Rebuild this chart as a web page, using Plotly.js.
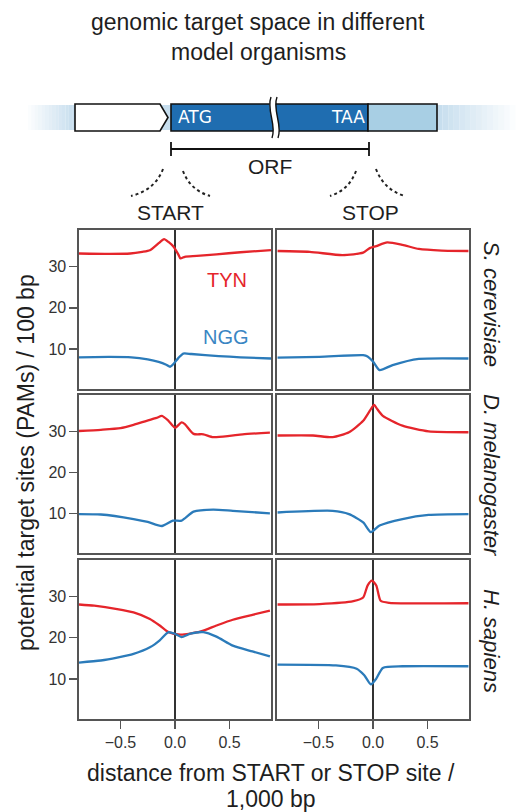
<!DOCTYPE html>
<html><head><meta charset="utf-8">
<script src="https://cdn.plot.ly/plotly-3.0.1.min.js"></script>
<style>html,body{margin:0;padding:0;background:#fff}</style>
</head><body><div id="chart" style="width:517px;height:812px"></div>
<script>
// ---- data (distance from site in units of 1,000 bp ; PAMs per 100 bp) ----
const scStartX_TYN = [-0.88,-0.60,-0.41,-0.30,-0.23,-0.15,-0.10,-0.06,-0.015,0.03,0.05,0.09,0.20,0.38,0.60,0.88];
const scStartTYN   = [33.2,33.1,33.2,33.6,34.0,35.7,36.7,36.0,34.9,33.0,32.0,32.4,32.6,33.0,33.5,34.0];
const scStartX_NGG = [-0.88,-0.60,-0.40,-0.25,-0.15,-0.08,-0.045,-0.01,0.03,0.076,0.15,0.40,0.60,0.88];
const scStartNGG   = [8.0,8.1,8.0,7.5,6.9,6.2,5.7,6.5,7.8,8.9,8.8,8.3,8.0,7.7];
const scStopX_TYN  = [-0.875,-0.58,-0.28,-0.09,-0.03,0.03,0.13,0.27,0.42,0.63,0.875];
const scStopTYN    = [33.8,33.6,32.8,33.4,34.5,35.0,35.9,35.3,34.3,33.9,33.8];
const scStopX_NGG  = [-0.875,-0.49,-0.09,-0.05,0.0,0.06,0.18,0.42,0.875];
const scStopNGG    = [7.9,8.1,8.5,8.2,7.0,4.9,6.1,7.6,7.7];

const dmStartX_TYN = [-0.88,-0.68,-0.50,-0.38,-0.26,-0.17,-0.12,-0.06,0.0,0.06,0.09,0.17,0.26,0.35,0.50,0.62,0.87];
const dmStartTYN   = [30.1,30.4,30.8,31.6,32.6,33.3,33.8,32.6,30.9,32.2,31.8,29.4,29.3,28.6,28.9,29.3,29.7];
const dmStartX_NGG = [-0.88,-0.68,-0.38,-0.25,-0.12,-0.02,0.06,0.17,0.35,0.53,0.87];
const dmStartNGG   = [9.8,9.7,8.6,7.9,6.9,8.2,8.2,10.4,10.9,10.6,10.0];
const dmStopX_TYN  = [-0.875,-0.55,-0.37,-0.22,-0.09,-0.03,0.01,0.04,0.09,0.27,0.51,0.875];
const dmStopTYN    = [29.0,29.0,28.6,29.8,32.6,35.0,36.5,35.4,33.8,31.4,30.0,29.8];
const dmStopX_NGG  = [-0.875,-0.37,-0.22,-0.09,-0.02,0.06,0.27,0.51,0.875];
const dmStopNGG    = [10.2,10.6,9.8,7.8,5.4,7.0,8.6,9.6,9.8];

const hsStartX_TYN = [-0.88,-0.74,-0.53,-0.38,-0.23,-0.14,-0.06,0.05,0.23,0.38,0.53,0.71,0.87];
const hsStartTYN   = [28.1,27.8,27.0,26.2,24.6,23.0,21.4,20.8,21.5,23.0,24.4,25.6,26.6];
const hsStartX_NGG = [-0.88,-0.68,-0.53,-0.38,-0.23,-0.14,-0.06,0.0,0.06,0.14,0.26,0.38,0.53,0.71,0.87];
const hsStartNGG   = [14.0,14.5,15.2,16.1,17.7,19.4,21.4,21.0,20.2,21.0,21.4,20.3,18.1,16.7,15.5];
const hsStopX_TYN  = [-0.875,-0.49,-0.18,-0.09,-0.05,-0.01,0.03,0.07,0.15,0.875];
const hsStopTYN    = [28.1,28.2,28.9,29.8,32.7,33.9,32.7,29.0,28.5,28.4];
const hsStopX_NGG  = [-0.875,-0.34,-0.15,-0.08,-0.02,0.03,0.09,0.27,0.875];
const hsStopNGG    = [13.5,13.3,12.5,10.9,8.7,10.1,12.7,13.1,13.1];

const xTickVals = [-0.5, 0, 0.5];
const xTickText = ['\u22120.5', '0.0', '0.5'];
const yTickVals = [10, 20, 30];
const organisms = ['S. cerevisiae', 'D. melanogaster', 'H. sapiens'];
const seriesNames = ['TYN', 'NGG'];

// ---- layout geometry (pixels) ----
const W = 517, H = 812, ML = 79, MR = 48, MT = 230, MB = 93;
const PW = W - ML - MR, PH = H - MT - MB;
const px = x => (x - ML) / PW;
const py = y => (H - MB - y) / PH;
const RED = '#e5252b', BLUE = '#2b7bba', INK = '#1e1e1e';
const FONT = 'Liberation Sans, Arial, Helvetica, sans-serif';

const panels = [
  [scStartX_TYN, scStartTYN, scStartX_NGG, scStartNGG],
  [scStopX_TYN, scStopTYN, scStopX_NGG, scStopNGG],
  [dmStartX_TYN, dmStartTYN, dmStartX_NGG, dmStartNGG],
  [dmStopX_TYN, dmStopTYN, dmStopX_NGG, dmStopNGG],
  [hsStartX_TYN, hsStartTYN, hsStartX_NGG, hsStartNGG],
  [hsStopX_TYN, hsStopTYN, hsStopX_NGG, hsStopNGG]
];

const colDom = [[0, px(271)], [px(277), 1]];
const rowDom = [[py(389), py(230)], [py(553), py(395)], [py(719), py(560)]];

const traces = [];
const layout = {
  width: W, height: H,
  margin: {l: ML, r: MR, t: MT, b: MB, pad: 0},
  paper_bgcolor: '#fff', plot_bgcolor: '#fff',
  showlegend: false, hovermode: false,
  font: {family: FONT, color: INK},
  shapes: [], annotations: []
};

panels.forEach((p, i) => {
  const r = Math.floor(i / 2), c = i % 2, n = i + 1;
  const xa = n === 1 ? 'x' : 'x' + n, ya = n === 1 ? 'y' : 'y' + n;
  traces.push({x: p[0], y: p[1], xaxis: xa, yaxis: ya, type: 'scatter', mode: 'lines', name: seriesNames[0],
    line: {color: RED, width: 2.3, shape: 'spline', smoothing: 0.6}});
  traces.push({x: p[2], y: p[3], xaxis: xa, yaxis: ya, type: 'scatter', mode: 'lines', name: seriesNames[1],
    line: {color: BLUE, width: 2.3, shape: 'spline', smoothing: 0.6}});
  const bottom = r === 2, left = c === 0;
  layout[n === 1 ? 'xaxis' : 'xaxis' + n] = {
    domain: colDom[c], anchor: ya, range: [-0.88, 0.88], showgrid: false,
    zeroline: true, zerolinecolor: '#333', zerolinewidth: 1.2,
    showline: true, mirror: true, linecolor: '#555', linewidth: 1.6,
    tickvals: xTickVals, ticktext: xTickText, ticks: bottom ? 'outside' : '', ticklen: 8, tickwidth: 1.3, tickcolor: '#555',
    showticklabels: bottom, tickfont: {size: 16, color: '#333', family: FONT}
  };
  layout[n === 1 ? 'yaxis' : 'yaxis' + n] = {
    domain: rowDom[r], anchor: xa, range: [0.3, 38.9], showgrid: false, zeroline: false,
    showline: true, mirror: true, linecolor: '#555', linewidth: 1.6,
    tickvals: yTickVals, ticks: left ? 'outside' : '', ticklen: 8, tickwidth: 1.3, tickcolor: '#555',
    showticklabels: left, tickfont: {size: 16, color: '#333', family: FONT}
  };
});

// ---- annotations ----
const ann = (x, y, text, o) => layout.annotations.push(Object.assign({
  xref: 'paper', yref: 'paper', x: px(x), y: py(y), text: text, showarrow: false,
  xanchor: 'center', yanchor: 'middle', font: {size: 20, color: INK, family: FONT}
}, o || {}));

ann(258, 22, 'genomic target space in different', {font: {size: 23, color: INK, family: FONT}});
ann(258, 52, 'model organisms', {font: {size: 23, color: INK, family: FONT}});
ann(271, 773, 'distance from START or STOP site /', {font: {size: 23, color: INK, family: FONT}});
ann(271, 799, '1,000 bp', {font: {size: 23, color: INK, family: FONT}});
ann(26, 463, 'potential target sites (PAMs) / 100 bp', {textangle: -90, font: {size: 23, color: INK, family: FONT}});
ann(492, 304, '<i>' + organisms[0] + '</i>', {textangle: 90, font: {size: 22, color: INK, family: FONT}});
ann(492, 475, '<i>' + organisms[1] + '</i>', {textangle: 90, font: {size: 22, color: INK, family: FONT}});
ann(492, 641, '<i>' + organisms[2] + '</i>', {textangle: 90, font: {size: 22, color: INK, family: FONT}});
ann(227, 280, seriesNames[0], {font: {size: 20, color: RED, family: FONT}});
ann(226, 337, seriesNames[1], {font: {size: 20, color: '#3a86c3', family: FONT}});
ann(270, 166, 'ORF', {font: {size: 21, color: INK, family: FONT}});
ann(170, 212, 'START', {font: {size: 21, color: INK, family: FONT}});
ann(370, 212, 'STOP', {font: {size: 21, color: INK, family: FONT}});
ann(195, 117, 'ATG', {font: {size: 17, color: '#fff', family: 'DejaVu Sans, sans-serif'}});
ann(348, 117, 'TAA', {font: {size: 17, color: '#fff', family: 'DejaVu Sans, sans-serif'}});

// ---- gene diagram shapes ----
const S = layout.shapes;
const rect = (x0, y0, x1, y1, fill, line, lw, op) => S.push({type: 'rect', xref: 'paper', yref: 'paper',
  x0: px(x0), x1: px(x1), y0: py(y1), y1: py(y0), fillcolor: fill, opacity: op === undefined ? 1 : op,
  line: {color: line || 'rgba(0,0,0,0)', width: lw || 0}, layer: 'above'});
const path = (pts, fill, line, lw, dash) => {
  let d = '';
  pts.forEach(p => {
    if (typeof p === 'string') d += p + ' ';
    else d += px(p[0]).toFixed(5) + ',' + py(p[1]).toFixed(5) + ' ';
  });
  S.push({type: 'path', xref: 'paper', yref: 'paper', path: d.trim(), fillcolor: fill || 'rgba(0,0,0,0)',
    line: {color: line || 'rgba(0,0,0,0)', width: lw || 0, dash: dash || 'solid'}, layer: 'above'});
};
// faded band
const steps = 14;
for (let k = 0; k < steps; k++) {
  const a = (k + 1) / steps;
  rect(28 + k * 3.4, 105, 28 + (k + 1) * 3.4, 130, '#c7deee', null, 0, a);
  rect(437 + k * 5.6, 105, 437 + (k + 1) * 5.6, 130, '#c7deee', null, 0, 1 - k / steps);
}
rect(75, 105, 440, 130, '#c7deee');
// boxes
path(['M', [75, 104], 'L', [160, 104], 'L', [168, 117.5], 'L', [160, 131], 'L', [75, 131], 'Z'], '#fff', '#111', 1.6);
rect(171, 104, 368, 131, '#1f6db0', '#111', 1.6);
rect(368, 104, 437, 131, '#a8cfe4', '#111', 1.6);
// break
path(['M', [271, 97], 'C', [266, 110], [277, 125], [272, 138], 'L', [278, 138], 'C', [283, 125], [272, 110], [277, 97], 'Z'], '#fff');
path(['M', [271, 97], 'C', [266, 110], [277, 125], [272, 138]], null, '#111', 1.4);
path(['M', [277, 97], 'C', [272, 110], [283, 125], [278, 138]], null, '#111', 1.4);
// ORF bracket
path(['M', [171, 149], 'L', [369, 149]], null, '#111', 1.8);
path(['M', [171, 142], 'L', [171, 156]], null, '#111', 1.8);
path(['M', [369, 142], 'L', [369, 156]], null, '#111', 1.8);
// dotted zoom curves
path(['M', [163, 169], 'Q', [155, 190], [131, 196]], null, '#222', 2, 'dot');
path(['M', [183, 171], 'Q', [190, 190], [210, 196]], null, '#222', 2, 'dot');
path(['M', [356, 171], 'Q', [349, 190], [330, 196]], null, '#222', 2, 'dot');
path(['M', [376, 169], 'Q', [384, 190], [405, 196]], null, '#222', 2, 'dot');

Plotly.newPlot('chart', traces, layout, {staticPlot: true, displayModeBar: false});
</script></body></html>
